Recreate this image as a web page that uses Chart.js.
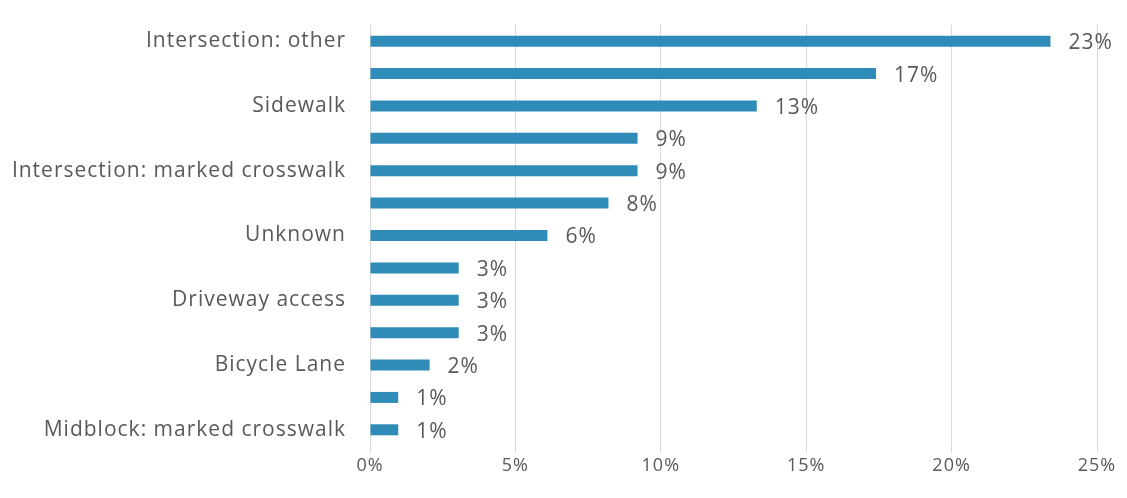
<!DOCTYPE html>
<html>
<head>
<meta charset="utf-8">
<script src="https://cdn.jsdelivr.net/npm/chart.js@4/dist/chart.umd.min.js"></script>
<style>
  html, body { margin: 0; padding: 0; background: #ffffff; }
  #wrap { width: 1127px; height: 498px; position: relative; }
</style>
</head>
<body>
<div id="wrap"><canvas id="chart"></canvas></div>
<script>
// Crash locations, share of all pedestrian crashes (%)
const categories = [
  'Intersection: other',
  '',
  'Sidewalk',
  '',
  'Intersection: marked crosswalk',
  '',
  'Unknown',
  '',
  'Driveway access',
  '',
  'Bicycle Lane',
  '',
  'Midblock: marked crosswalk'
];
const shares = [23.4, 17.4, 13.3, 9.2, 9.2, 8.2, 6.1, 3.05, 3.05, 3.05, 2.05, 0.97, 0.97];
const xTicks = [0, 5, 10, 15, 20, 25];

const FONT = '"Open Sans", Lato, sans-serif';
const TEXT = '#595959';
const GRID = '#d9d9d9';
const BAR = '#2f8bb8';
const SPACING = '1px';

// Slightly tracked-out lettering for every piece of text on the canvas
const tracking = {
  id: 'tracking',
  beforeLayout(chart) { chart.ctx.letterSpacing = SPACING; },
  beforeDraw(chart) { chart.ctx.letterSpacing = SPACING; }
};

// Writes the rounded percentage just past the end of each bar
const valueLabels = {
  id: 'valueLabels',
  afterDatasetsDraw(chart) {
    const { ctx } = chart;
    const meta = chart.getDatasetMeta(0);
    ctx.save();
    ctx.letterSpacing = SPACING;
    ctx.font = '21px ' + FONT;
    ctx.fillStyle = TEXT;
    ctx.textAlign = 'left';
    ctx.textBaseline = 'middle';
    meta.data.forEach((bar, i) => {
      const v = chart.data.datasets[0].data[i];
      ctx.fillText(Math.round(v) + '%', bar.x + 18, bar.y + 2);
    });
    ctx.restore();
  }
};

new Chart(document.getElementById('chart'), {
  type: 'bar',
  data: {
    labels: categories,
    datasets: [{
      data: shares,
      backgroundColor: BAR,
      borderWidth: 0,
      barPercentage: 0.34,
      categoryPercentage: 1.0
    }]
  },
  options: {
    indexAxis: 'y',
    responsive: true,
    maintainAspectRatio: false,
    animation: false,
    layout: { padding: { top: 25, right: 30, bottom: 0, left: 0 } },
    plugins: {
      legend: { display: false },
      tooltip: { enabled: false }
    },
    scales: {
      x: {
        min: 0,
        max: 25,
        afterBuildTicks(scale) { scale.ticks = xTicks.map(v => ({ value: v })); },
        afterFit(scale) { scale.height = 52; },
        grid: { color: GRID, lineWidth: 1, tickLength: 7, drawTicks: true },
        border: { display: false },
        ticks: {
          color: TEXT,
          font: { family: FONT, size: 18 },
          padding: 2,
          maxRotation: 0,
          callback: v => v + '%'
        }
      },
      y: {
        afterFit(scale) { scale.width = 370; },
        grid: {
          display: true,
          drawOnChartArea: false,
          drawTicks: true,
          tickLength: 20,
          color: 'rgba(0,0,0,0)',
          tickColor: 'rgba(0,0,0,0)'
        },
        border: { display: true, color: GRID, width: 1 },
        ticks: {
          autoSkip: false,
          color: TEXT,
          font: { family: FONT, size: 21 },
          padding: 4
        }
      }
    }
  },
  plugins: [tracking, valueLabels]
});
</script>
</body>
</html>
